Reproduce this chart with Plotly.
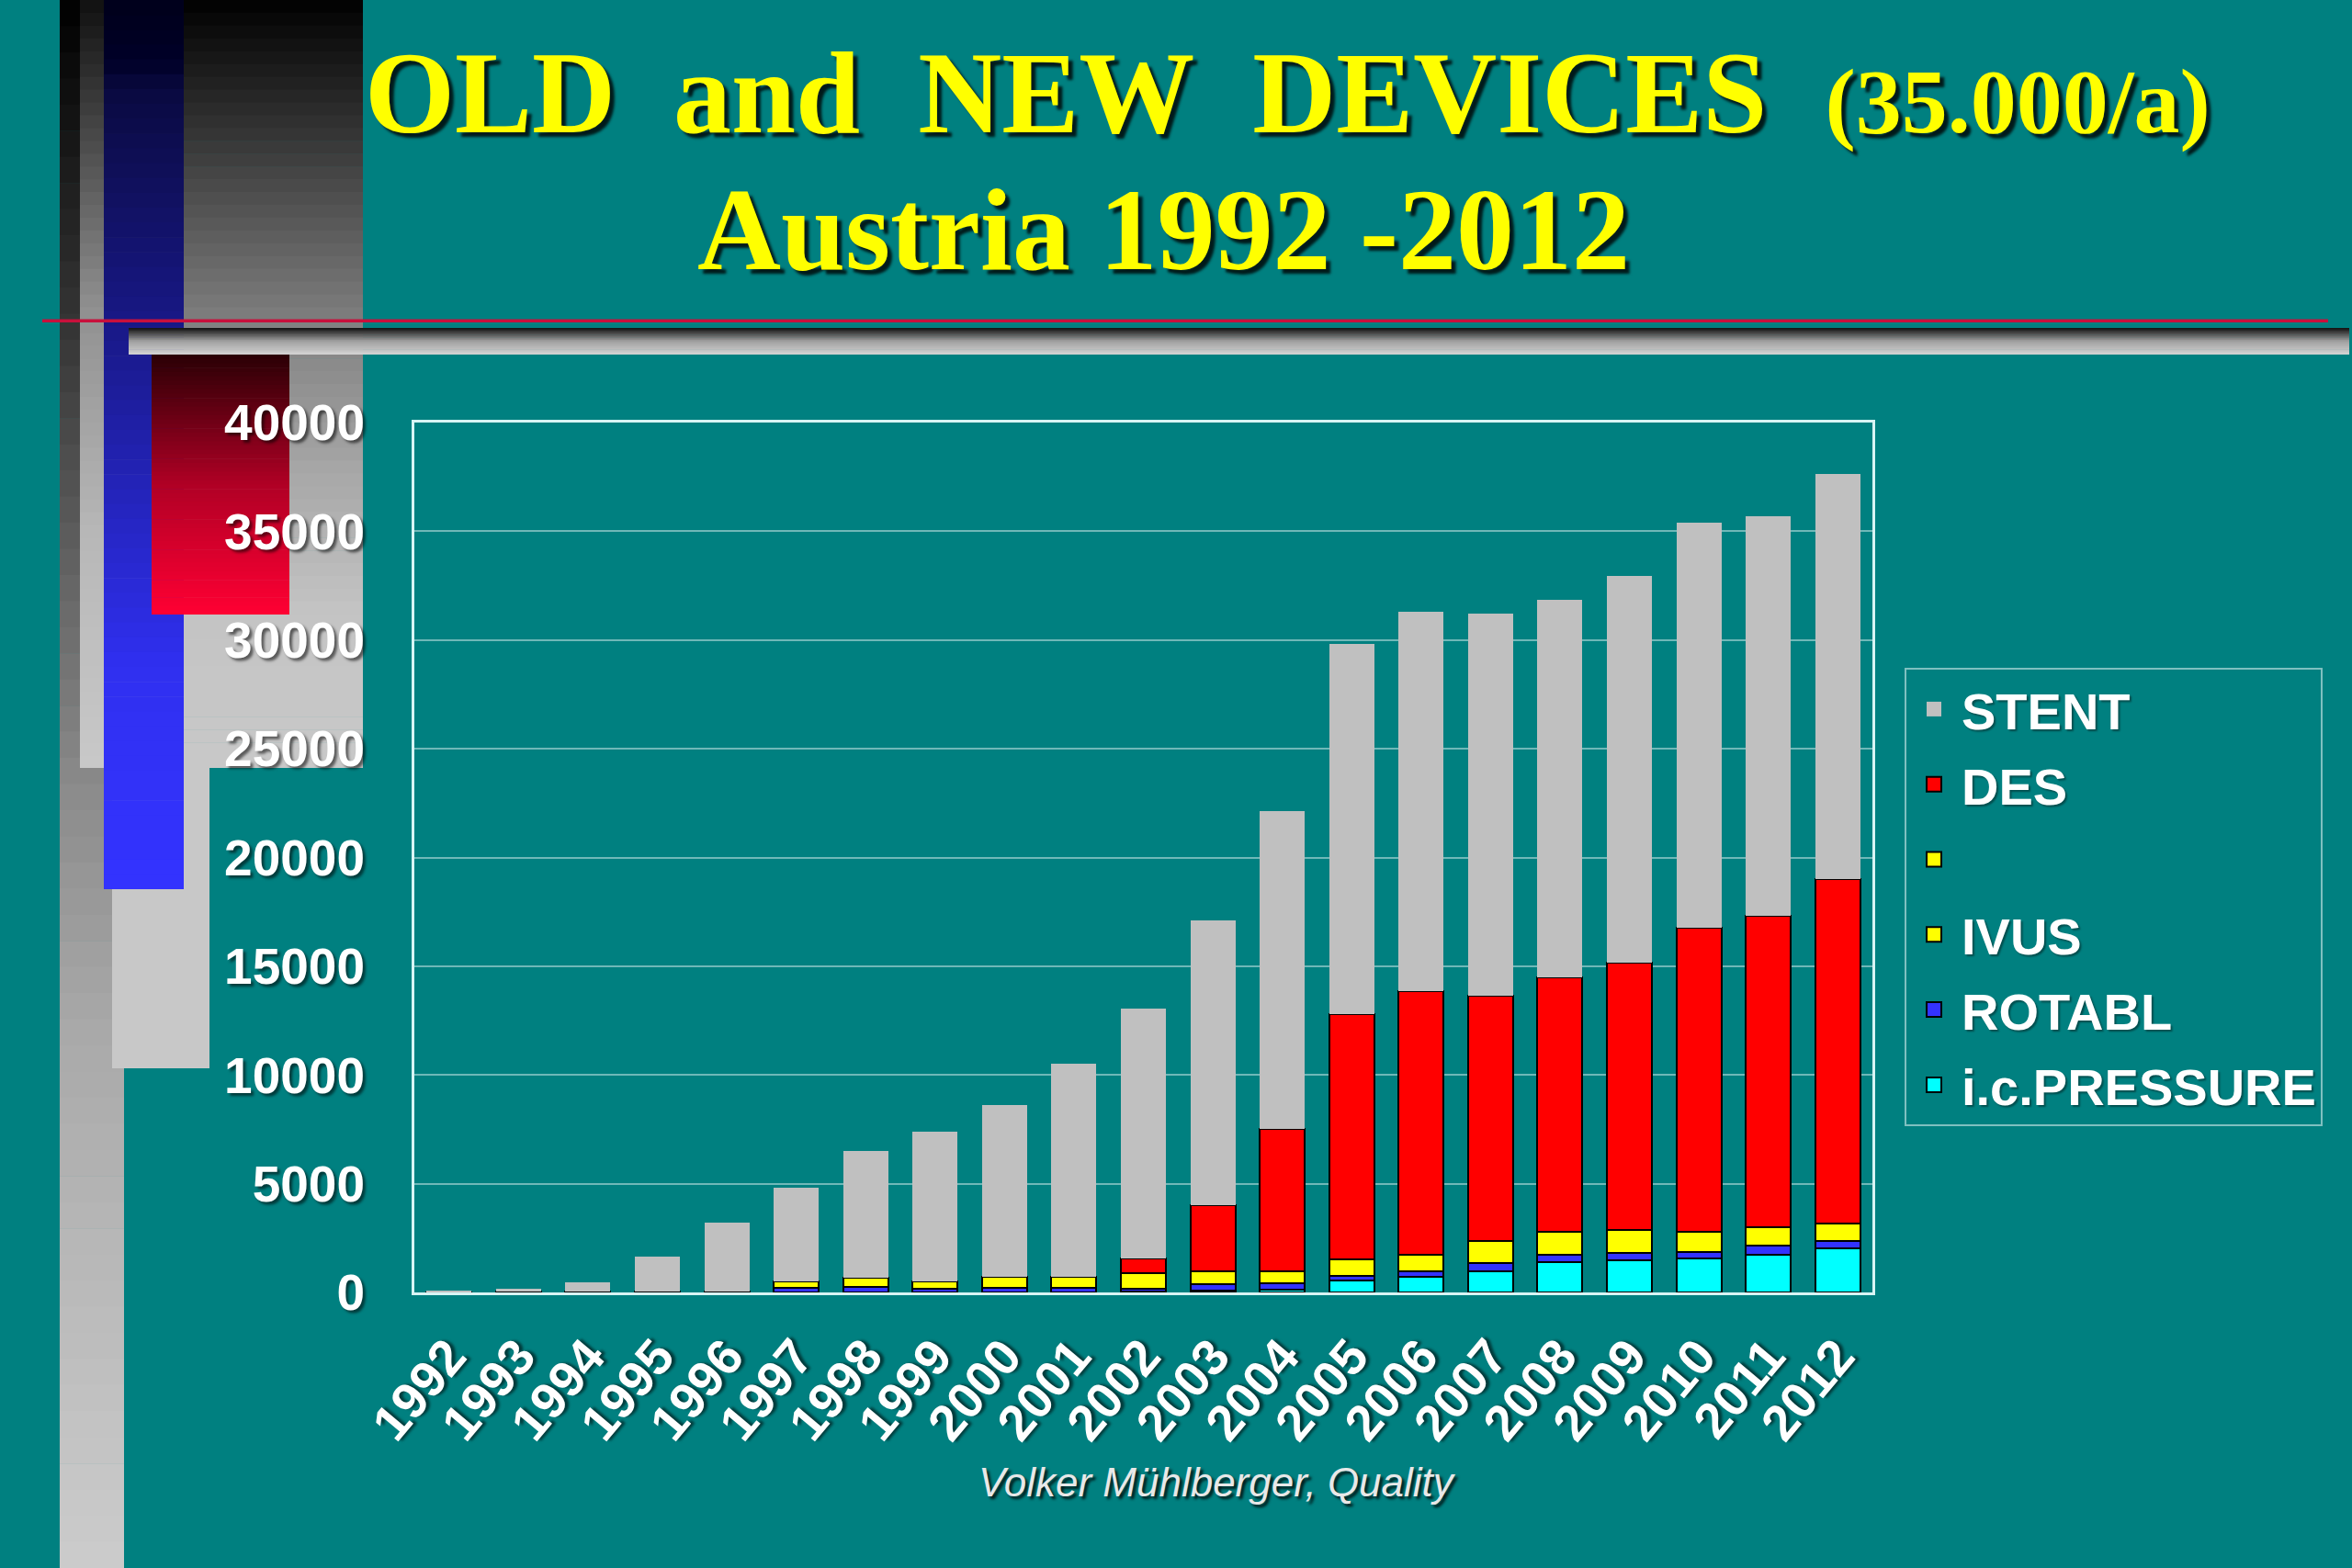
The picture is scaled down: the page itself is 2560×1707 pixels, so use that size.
import plotly.graph_objects as go

W, H = 2560, 1707

# ---------------- data ----------------
years = ["1992", "1993", "1994", "1995", "1996", "1997", "1998", "1999", "2000", "2001",
         "2002", "2003", "2004", "2005", "2006", "2007", "2008", "2009", "2010", "2011", "2012"]
ic_pressure = [0, 0, 0, 0, 0, 0, 0, 0, 0, 0, 30, 100, 140, 560, 700, 960, 1380, 1480, 1580, 1720, 2040]
rotabl = [20, 30, 40, 60, 60, 200, 240, 180, 210, 200, 150, 290, 280, 215, 285, 380, 340, 350, 280, 420, 330]
ivus = [0, 0, 0, 0, 0, 290, 420, 340, 490, 500, 710, 570, 540, 725, 735, 1010, 1050, 1030, 930, 850, 800]
unnamed = [0, 0, 0, 0, 0, 0, 0, 0, 0, 0, 0, 0, 0, 0, 0, 0, 0, 0, 0, 0, 0]
des = [0, 0, 0, 0, 0, 0, 0, 0, 0, 0, 660, 3040, 6540, 11300, 12130, 11300, 11730, 12310, 13960, 14310, 15830]
stent = [60, 160, 440, 1590, 3140, 4340, 5840, 6880, 7900, 9800, 11500, 13100, 14650, 17000, 17450,
         17550, 17350, 17780, 18650, 18400, 18650]

# stacking order bottom -> top
series_names = ["i.c.PRESSURE", "ROTABL", "IVUS", "\u00a0", "DES", "STENT"]
series_values = [ic_pressure, rotabl, ivus, unnamed, des, stent]
series_colors = ["#00FFFF", "#3333FF", "#FFFF00", "#FFFF00", "#FF0000", "#C0C0C0"]
series_outline = [2, 2, 2, 2, 2, 0]

y_ticks = [0, 5000, 10000, 15000, 20000, 25000, 30000, 35000, 40000]

BG = "#008080"


def px(x):
    return x / W


def py(y):
    return 1 - y / H


def hex2rgb(h):
    return tuple(int(h[i:i + 2], 16) for i in (1, 3, 5))


def interp(stops, t):
    for (t0, c0), (t1, c1) in zip(stops[:-1], stops[1:]):
        if t0 <= t <= t1:
            f = 0 if t1 == t0 else (t - t0) / (t1 - t0)
            a, b = hex2rgb(c0), hex2rgb(c1)
            return "rgb(%d,%d,%d)" % tuple(round(a[k] + (b[k] - a[k]) * f) for k in range(3))
    return stops[-1][1]


shapes = []


def grad_rect(x0, x1, y0, y1, stops, n=60):
    for i in range(n):
        ya = y0 + (y1 - y0) * i / n
        yb = min(y1, y0 + (y1 - y0) * (i + 1) / n + 0.6)
        t = (i + 0.5) / n
        shapes.append(dict(type="rect", xref="paper", yref="paper", layer="below",
                           x0=px(x0), x1=px(x1), y0=py(yb), y1=py(ya),
                           fillcolor=interp(stops, t), line=dict(width=0)))


def solid_rect(x0, x1, y0, y1, color):
    shapes.append(dict(type="rect", xref="paper", yref="paper", layer="below",
                       x0=px(x0), x1=px(x1), y0=py(y1), y1=py(y0),
                       fillcolor=color, line=dict(width=0)))


# decorative template elements (slide background)
grad_rect(65, 135, 0, 1707, [(0, "#000000"), (0.2, "#333333"), (0.5, "#8a8a8a"), (0.65, "#a8a8a8"), (1, "#cccccc")])
grad_rect(87, 395, 0, 836, [(0, "#000000"), (0.42, "#808080"), (0.62, "#a8a8a8"), (0.8, "#c4c4c4"), (1, "#c8c8c8")])
grad_rect(87, 113, 0, 836, [(0, "#101010"), (0.4, "#909090"), (0.7, "#b8b8b8"), (1, "#c8c8c8")])
solid_rect(122, 228, 836, 1163, "#c8c8c8")
grad_rect(113, 200, 0, 968, [(0, "#00001a"), (0.07, "#000028"), (0.1, "#0a0a40"), (0.4, "#1a1a90"), (0.75, "#3030f0"), (1, "#3333ff")])
grad_rect(165, 315, 386, 669, [(0, "#2a0005"), (0.5, "#b00025"), (1, "#ff0033")])
grad_rect(140, 2557, 357, 386, [(0, "#101010"), (0.5, "#a0a0a0"), (1, "#d4d4d4")], n=20)
solid_rect(46, 2534, 347.5, 351, "#c8103c")

fig = go.Figure()
for name, vals, col, lw in zip(series_names, series_values, series_colors, series_outline):
    fig.add_trace(go.Bar(
        x=years, y=vals, name=name, showlegend=False, legendgroup=name,
        marker=dict(color=col, line=dict(color="#000000", width=lw)),
    ))

# legend entries (square swatches), listed top -> bottom like the original
for name, col, lw in reversed(list(zip(series_names, series_colors, series_outline))):
    fig.add_trace(go.Scatter(
        x=[None], y=[None], mode="markers", name=name, legendgroup=name, showlegend=True,
        hoverinfo="skip",
        marker=dict(symbol="square", size=16, color=col, line=dict(color="#000000", width=lw)),
    ))

tick_font = dict(family="Liberation Sans, Arial", size=55, color="#ffffff", weight="bold",
                 shadow="3px 3px 3px rgba(0,0,0,0.55)")

fig.update_layout(
    width=W, height=H,
    margin=dict(l=0, r=0, t=0, b=0),
    paper_bgcolor=BG, plot_bgcolor=BG,
    barmode="stack", bargap=0.35,
    showlegend=True,
    legend=dict(
        x=px(2073), y=py(727), xanchor="left", yanchor="top",
        traceorder="grouped", tracegroupgap=6, itemwidth=50,
        bgcolor="rgba(0,0,0,0)", bordercolor="#7fc0c0", borderwidth=2,
        font=dict(family="Liberation Sans, Arial", size=56, color="#ffffff", weight="bold",
                  shadow="2px 2px 2px rgba(0,0,0,0.4)"),
    ),
    xaxis=dict(
        domain=[px(451), px(2038)], automargin=False,
        tickangle=-50, tickfont=tick_font, ticklabelstandoff=12,
        showline=True, mirror=True, linecolor="#d8f4f4", linewidth=3,
        ticks="", showgrid=False,
    ),
    yaxis=dict(
        domain=[py(1407), py(460)], automargin=False,
        range=[0, 40000], tickvals=y_ticks, ticktext=[str(v) for v in y_ticks],
        tickfont=tick_font, ticklabelstandoff=40,
        showline=True, mirror=True, linecolor="#d8f4f4", linewidth=3,
        showgrid=True, gridcolor="#6fb8b8", gridwidth=2, zeroline=False, ticks="",
    ),
    shapes=shapes,
    annotations=[
        dict(xref="paper", yref="paper", x=px(395), y=py(101), xanchor="left", yanchor="middle",
             showarrow=False,
             text="<b>OLD\u00a0 and\u00a0 NEW\u00a0 DEVICES\u00a0 <span style='font-size:100px'>(35.000/a)</span></b>",
             font=dict(family="Liberation Serif, Times New Roman", size=126, color="#ffff00",
                       shadow="5px 5px 3px rgba(0,0,0,0.8)")),
        dict(xref="paper", yref="paper", x=px(757), y=py(251), xanchor="left", yanchor="middle",
             showarrow=False,
             text="<b>Austria 1992 -2012</b>",
             font=dict(family="Liberation Serif, Times New Roman", size=126, color="#ffff00",
                       shadow="5px 5px 3px rgba(0,0,0,0.8)")),
        dict(xref="paper", yref="paper", x=px(1325), y=py(1613), xanchor="center", yanchor="middle",
             showarrow=False,
             text="<i>Volker Mühlberger, Quality</i>",
             font=dict(family="Liberation Sans, Arial", size=44, color="#e8e8e8",
                       shadow="3px 3px 3px rgba(0,0,0,0.8)")),
    ],
)

fig.write_html("out.html", config={"displayModeBar": False},
               post_script="document.body.style.margin='0';")
